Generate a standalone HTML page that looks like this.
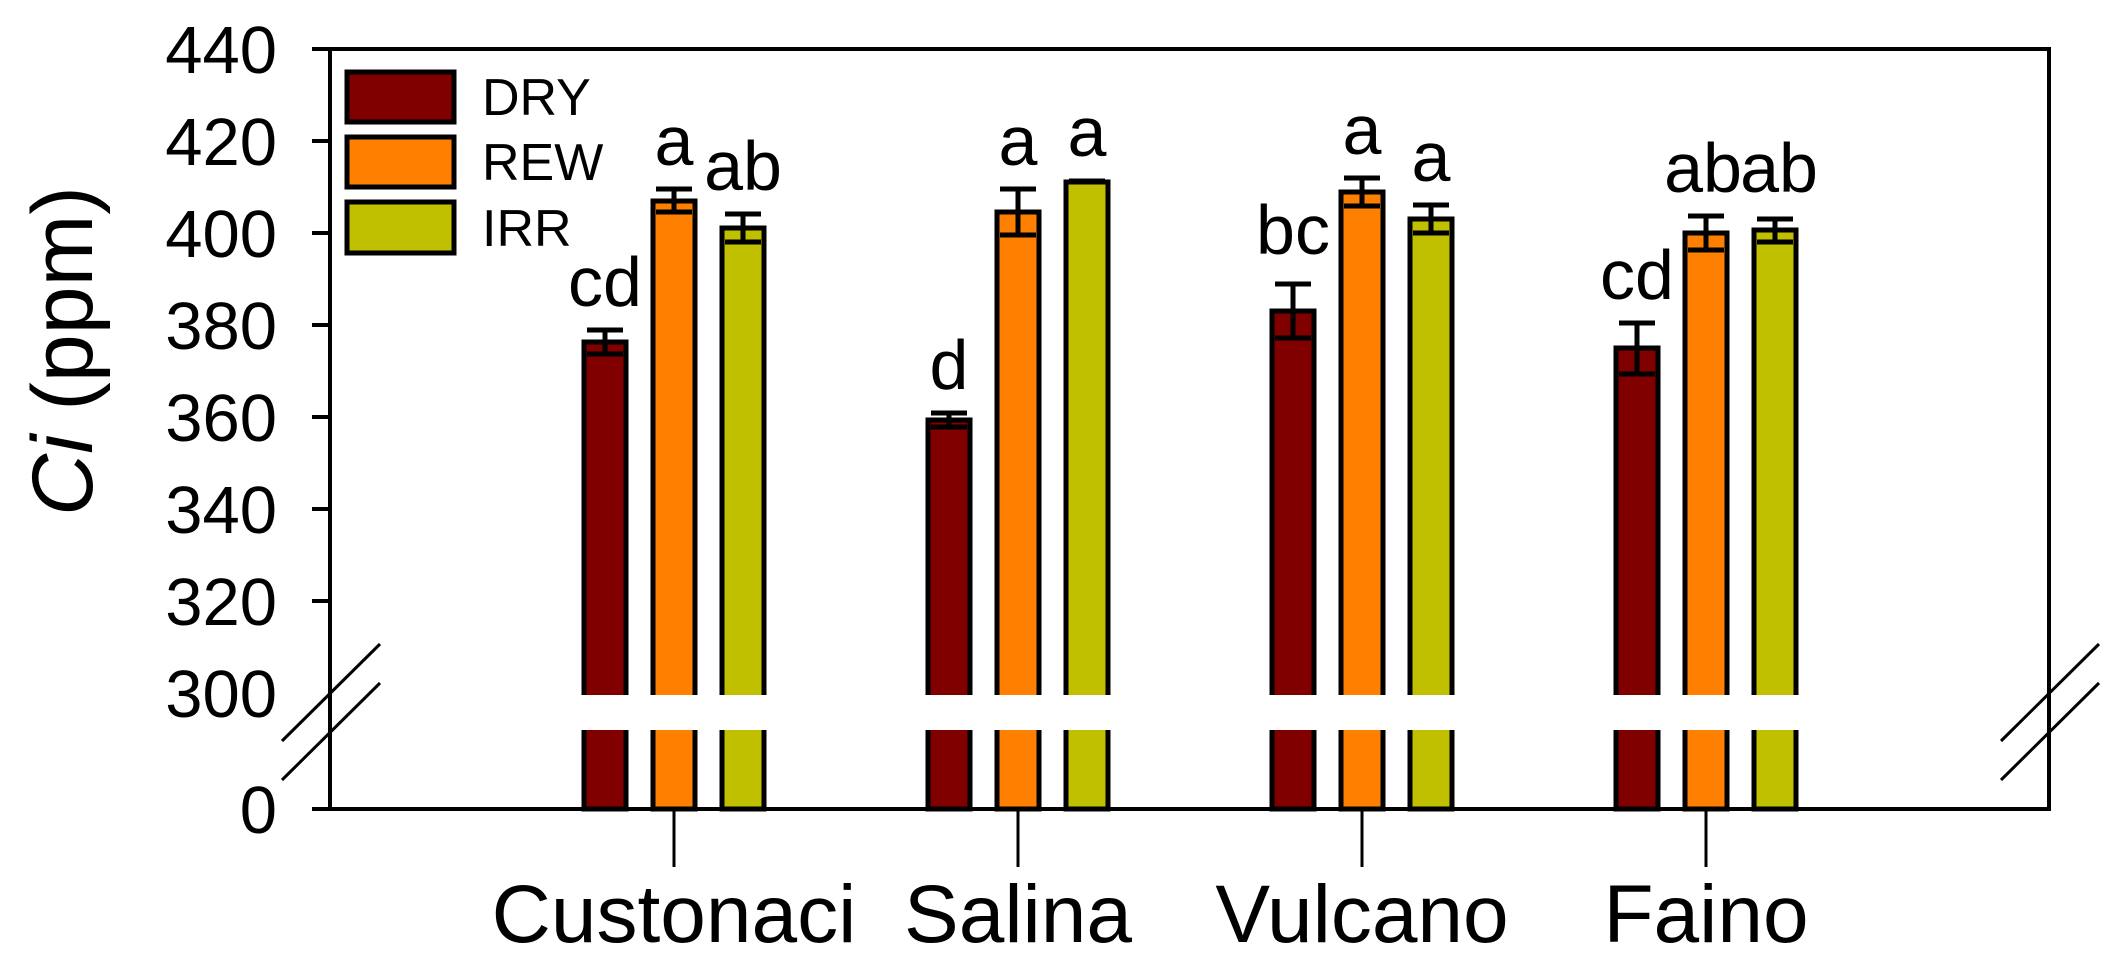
<!DOCTYPE html>
<html><head><meta charset="utf-8"><style>
html,body{margin:0;padding:0;background:#fff;}
svg{display:block;}
text{font-family:"Liberation Sans",Arial,sans-serif;fill:#000;}
</style></head><body>
<svg width="2121" height="969" viewBox="0 0 2121 969" xmlns="http://www.w3.org/2000/svg">
<rect x="330" y="49" width="1719" height="760" fill="none" stroke="#000" stroke-width="4"/>
<g stroke="#000" stroke-width="4">
<line x1="312" y1="49" x2="330" y2="49"/>
<line x1="312" y1="141" x2="330" y2="141"/>
<line x1="312" y1="233" x2="330" y2="233"/>
<line x1="312" y1="325" x2="330" y2="325"/>
<line x1="312" y1="417" x2="330" y2="417"/>
<line x1="312" y1="509" x2="330" y2="509"/>
<line x1="312" y1="601" x2="330" y2="601"/>
<line x1="312" y1="809" x2="330" y2="809"/>
</g>
<g font-size="67" text-anchor="end">
<text x="277" y="73">440</text>
<text x="277" y="165">420</text>
<text x="277" y="257">400</text>
<text x="277" y="349">380</text>
<text x="277" y="441">360</text>
<text x="277" y="533">340</text>
<text x="277" y="625">320</text>
<text x="277" y="717">300</text>
<text x="277" y="833">0</text>
</g>
<text transform="translate(92,351) rotate(-90)" font-size="86" text-anchor="middle"><tspan font-style="italic">Ci</tspan> (ppm)</text>
<g stroke="#000" stroke-width="3">
<line x1="674" y1="809" x2="674" y2="867"/>
<line x1="1018" y1="809" x2="1018" y2="867"/>
<line x1="1362" y1="809" x2="1362" y2="867"/>
<line x1="1706" y1="809" x2="1706" y2="867"/>
</g>
<g font-size="82" text-anchor="middle">
<text x="674" y="942">Custonaci</text>
<text x="1018" y="942">Salina</text>
<text x="1362" y="942">Vulcano</text>
<text x="1706" y="942">Faino</text>
</g>
<g stroke="#000" stroke-width="5">
<rect x="584" y="342" width="42" height="467" fill="#800000"/>
<rect x="653" y="201" width="42" height="608" fill="#ff8000"/>
<rect x="722" y="228" width="42" height="581" fill="#c0c000"/>
<rect x="928" y="420" width="42" height="389" fill="#800000"/>
<rect x="997" y="212" width="42" height="597" fill="#ff8000"/>
<rect x="1066" y="182" width="42" height="627" fill="#c0c000"/>
<rect x="1272" y="311" width="42" height="498" fill="#800000"/>
<rect x="1341" y="192" width="42" height="617" fill="#ff8000"/>
<rect x="1410" y="219" width="42" height="590" fill="#c0c000"/>
<rect x="1616" y="348" width="42" height="461" fill="#800000"/>
<rect x="1685" y="233" width="42" height="576" fill="#ff8000"/>
<rect x="1754" y="230" width="42" height="579" fill="#c0c000"/>
</g>
<g stroke="#000" stroke-width="5" fill="none">
<path d="M605 330V354M587 330H623M587 354H623"/>
<path d="M674 189V212M656 189H692M656 212H692"/>
<path d="M743 214V242M725 214H761M725 242H761"/>
<path d="M949 413V427M931 413H967M931 427H967"/>
<path d="M1018 189V235M1000 189H1036M1000 235H1036"/>
<path d="M1087 180V183M1069 181H1105"/>
<path d="M1293 284V338M1275 284H1311M1275 338H1311"/>
<path d="M1362 178V206M1344 178H1380M1344 206H1380"/>
<path d="M1431 205V233M1413 205H1449M1413 233H1449"/>
<path d="M1637 323V374M1619 323H1655M1619 374H1655"/>
<path d="M1706 216V250M1688 216H1724M1688 250H1724"/>
<path d="M1775 219V242M1757 219H1793M1757 242H1793"/>
</g>
<rect x="560" y="695" width="1260" height="35" fill="#fff"/>
<g stroke="#000" stroke-width="3">
<line x1="282" y1="741" x2="380" y2="644"/>
<line x1="282" y1="780" x2="380" y2="683"/>
<line x1="2001" y1="741" x2="2099" y2="644"/>
<line x1="2001" y1="780" x2="2099" y2="683"/>
</g>
<g font-size="70" text-anchor="middle">
<text x="605" y="306">cd</text>
<text x="674" y="165">a</text>
<text x="743" y="190">ab</text>
<text x="949" y="389">d</text>
<text x="1018" y="165">a</text>
<text x="1087" y="156">a</text>
<text x="1293" y="254">bc</text>
<text x="1362" y="154">a</text>
<text x="1431" y="181">a</text>
<text x="1637" y="299">cd</text>
<text x="1703" y="192">ab</text>
<text x="1779" y="192">ab</text>
</g>
<g stroke="#000" stroke-width="5">
<rect x="347" y="72" width="107" height="50" fill="#800000"/>
<rect x="347" y="137" width="107" height="50" fill="#ff8000"/>
<rect x="347" y="202" width="107" height="51" fill="#c0c000"/>
</g>
<g font-size="52">
<text x="482" y="115">DRY</text>
<text x="482" y="180">REW</text>
<text x="482" y="246">IRR</text>
</g>
</svg>
</body></html>
